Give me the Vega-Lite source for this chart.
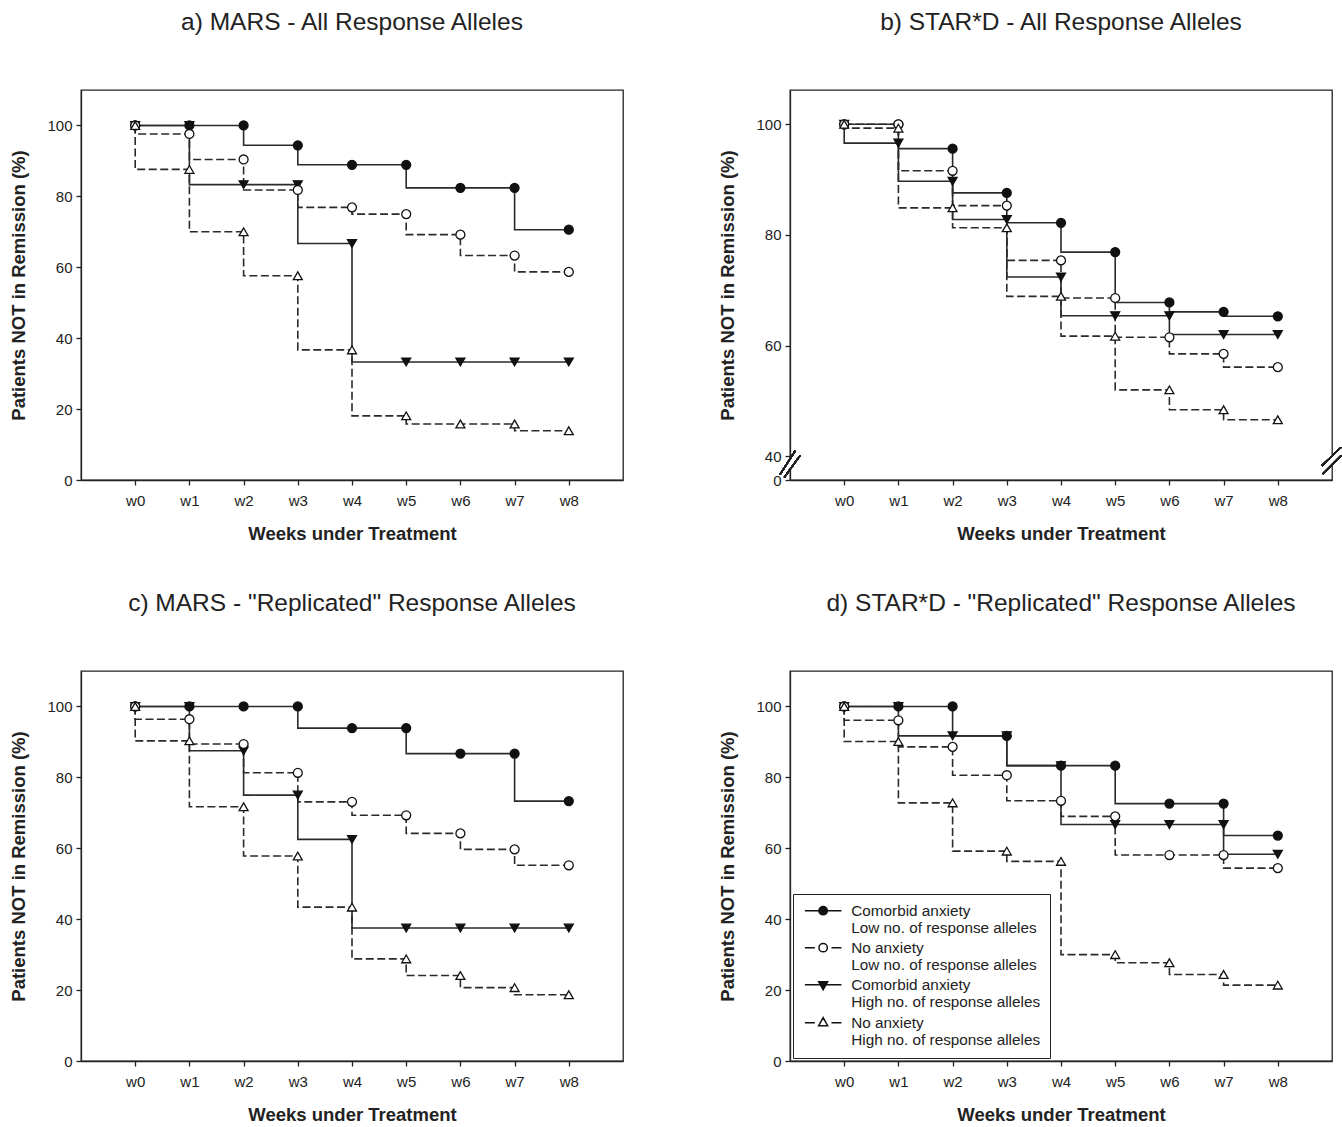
{
  "$schema": "https://vega.github.io/schema/vega-lite/v6.json",
  "autosize": {"type": "pad"},
  "padding": {"top": 8, "left": 9, "right": 0, "bottom": 0},
  "background": "white",
  "config": {
    "font": "Liberation Sans",
    "view": {"stroke": "#222", "strokeWidth": 1.3},
    "title": {"fontSize": 24.5, "fontWeight": "normal", "color": "#222", "offset": 55, "anchor": "middle", "font": "Liberation Sans"},
    "axis": {"grid": false, "labelFont": "Liberation Sans", "labelFontSize": 15, "labelColor": "#222", "titleFont": "Liberation Sans", "titleFontSize": 18.5, "titleFontWeight": "bold", "titleColor": "#222", "domainColor": "#222", "domainWidth": 1.3, "tickColor": "#222", "tickWidth": 1.3, "tickSize": 5},
    "axisX": {"labelPadding": 8, "titlePadding": 16},
    "axisY": {"labelPadding": 4, "titlePadding": 18},
    "legend": {"labelFont": "Liberation Sans"}
  },
  "datasets": {
    "km": [
      {"p":"a","s":"CH","w":0,"v":100},{"p":"a","s":"CH","w":1,"v":100},{"p":"a","s":"CH","w":2,"v":83.3},{"p":"a","s":"CH","w":3,"v":83.3},{"p":"a","s":"CH","w":4,"v":66.7},{"p":"a","s":"CH","w":5,"v":33.3},{"p":"a","s":"CH","w":6,"v":33.3},{"p":"a","s":"CH","w":7,"v":33.3},{"p":"a","s":"CH","w":8,"v":33.3},
      {"p":"a","s":"CL","w":0,"v":100},{"p":"a","s":"CL","w":1,"v":100},{"p":"a","s":"CL","w":2,"v":100},{"p":"a","s":"CL","w":3,"v":94.4},{"p":"a","s":"CL","w":4,"v":88.9},{"p":"a","s":"CL","w":5,"v":88.9},{"p":"a","s":"CL","w":6,"v":82.4},{"p":"a","s":"CL","w":7,"v":82.4},{"p":"a","s":"CL","w":8,"v":70.6},
      {"p":"a","s":"NL","w":0,"v":100},{"p":"a","s":"NL","w":1,"v":97.6},{"p":"a","s":"NL","w":2,"v":90.4},{"p":"a","s":"NL","w":3,"v":81.8},{"p":"a","s":"NL","w":4,"v":76.9},{"p":"a","s":"NL","w":5,"v":75.0},{"p":"a","s":"NL","w":6,"v":69.2},{"p":"a","s":"NL","w":7,"v":63.3},{"p":"a","s":"NL","w":8,"v":58.7},
      {"p":"a","s":"NH","w":0,"v":100},{"p":"a","s":"NH","w":1,"v":87.6},{"p":"a","s":"NH","w":2,"v":70.0},{"p":"a","s":"NH","w":3,"v":57.6},{"p":"a","s":"NH","w":4,"v":36.7},{"p":"a","s":"NH","w":5,"v":18.1},{"p":"a","s":"NH","w":6,"v":15.8},{"p":"a","s":"NH","w":7,"v":15.8},{"p":"a","s":"NH","w":8,"v":13.9},
      {"p":"b","s":"CH","w":0,"v":100},{"p":"b","s":"CH","w":1,"v":96.6},{"p":"b","s":"CH","w":2,"v":89.7},{"p":"b","s":"CH","w":3,"v":82.8},{"p":"b","s":"CH","w":4,"v":72.4},{"p":"b","s":"CH","w":5,"v":65.4},{"p":"b","s":"CH","w":6,"v":65.4},{"p":"b","s":"CH","w":7,"v":62.0},{"p":"b","s":"CH","w":8,"v":62.0},
      {"p":"b","s":"CL","w":0,"v":100},{"p":"b","s":"CL","w":1,"v":100},{"p":"b","s":"CL","w":2,"v":95.6},{"p":"b","s":"CL","w":3,"v":87.6},{"p":"b","s":"CL","w":4,"v":82.2},{"p":"b","s":"CL","w":5,"v":76.9},{"p":"b","s":"CL","w":6,"v":67.8},{"p":"b","s":"CL","w":7,"v":66.1},{"p":"b","s":"CL","w":8,"v":65.3},
      {"p":"b","s":"NL","w":0,"v":100},{"p":"b","s":"NL","w":1,"v":100},{"p":"b","s":"NL","w":2,"v":91.6},{"p":"b","s":"NL","w":3,"v":85.3},{"p":"b","s":"NL","w":4,"v":75.4},{"p":"b","s":"NL","w":5,"v":68.6},{"p":"b","s":"NL","w":6,"v":61.5},{"p":"b","s":"NL","w":7,"v":58.5},{"p":"b","s":"NL","w":8,"v":56.1},
      {"p":"b","s":"NH","w":0,"v":100},{"p":"b","s":"NH","w":1,"v":99.3},{"p":"b","s":"NH","w":2,"v":84.9},{"p":"b","s":"NH","w":3,"v":81.3},{"p":"b","s":"NH","w":4,"v":68.9},{"p":"b","s":"NH","w":5,"v":61.7},{"p":"b","s":"NH","w":6,"v":52.0},{"p":"b","s":"NH","w":7,"v":48.4},{"p":"b","s":"NH","w":8,"v":46.6},
      {"p":"c","s":"CH","w":0,"v":100},{"p":"c","s":"CH","w":1,"v":100},{"p":"c","s":"CH","w":2,"v":87.5},{"p":"c","s":"CH","w":3,"v":75.0},{"p":"c","s":"CH","w":4,"v":62.5},{"p":"c","s":"CH","w":5,"v":37.5},{"p":"c","s":"CH","w":6,"v":37.5},{"p":"c","s":"CH","w":7,"v":37.5},{"p":"c","s":"CH","w":8,"v":37.5},
      {"p":"c","s":"CL","w":0,"v":100},{"p":"c","s":"CL","w":1,"v":100},{"p":"c","s":"CL","w":2,"v":100},{"p":"c","s":"CL","w":3,"v":100},{"p":"c","s":"CL","w":4,"v":93.9},{"p":"c","s":"CL","w":5,"v":93.9},{"p":"c","s":"CL","w":6,"v":86.7},{"p":"c","s":"CL","w":7,"v":86.7},{"p":"c","s":"CL","w":8,"v":73.3},
      {"p":"c","s":"NL","w":0,"v":100},{"p":"c","s":"NL","w":1,"v":96.4},{"p":"c","s":"NL","w":2,"v":89.4},{"p":"c","s":"NL","w":3,"v":81.3},{"p":"c","s":"NL","w":4,"v":73.1},{"p":"c","s":"NL","w":5,"v":69.3},{"p":"c","s":"NL","w":6,"v":64.2},{"p":"c","s":"NL","w":7,"v":59.7},{"p":"c","s":"NL","w":8,"v":55.2},
      {"p":"c","s":"NH","w":0,"v":100},{"p":"c","s":"NH","w":1,"v":90.3},{"p":"c","s":"NH","w":2,"v":71.7},{"p":"c","s":"NH","w":3,"v":57.8},{"p":"c","s":"NH","w":4,"v":43.4},{"p":"c","s":"NH","w":5,"v":28.8},{"p":"c","s":"NH","w":6,"v":24.1},{"p":"c","s":"NH","w":7,"v":20.7},{"p":"c","s":"NH","w":8,"v":18.7},
      {"p":"d","s":"CH","w":0,"v":100},{"p":"d","s":"CH","w":1,"v":100},{"p":"d","s":"CH","w":2,"v":91.7},{"p":"d","s":"CH","w":3,"v":91.7},{"p":"d","s":"CH","w":4,"v":83.3},{"p":"d","s":"CH","w":5,"v":66.7},{"p":"d","s":"CH","w":6,"v":66.7},{"p":"d","s":"CH","w":7,"v":66.7},{"p":"d","s":"CH","w":8,"v":58.3},
      {"p":"d","s":"CL","w":0,"v":100},{"p":"d","s":"CL","w":1,"v":100},{"p":"d","s":"CL","w":2,"v":100},{"p":"d","s":"CL","w":3,"v":91.7},{"p":"d","s":"CL","w":4,"v":83.3},{"p":"d","s":"CL","w":5,"v":83.3},{"p":"d","s":"CL","w":6,"v":72.6},{"p":"d","s":"CL","w":7,"v":72.6},{"p":"d","s":"CL","w":8,"v":63.6},
      {"p":"d","s":"NL","w":0,"v":100},{"p":"d","s":"NL","w":1,"v":96.1},{"p":"d","s":"NL","w":2,"v":88.6},{"p":"d","s":"NL","w":3,"v":80.6},{"p":"d","s":"NL","w":4,"v":73.4},{"p":"d","s":"NL","w":5,"v":69.0},{"p":"d","s":"NL","w":6,"v":58.1},{"p":"d","s":"NL","w":7,"v":58.1},{"p":"d","s":"NL","w":8,"v":54.4},
      {"p":"d","s":"NH","w":0,"v":100},{"p":"d","s":"NH","w":1,"v":90.1},{"p":"d","s":"NH","w":2,"v":72.8},{"p":"d","s":"NH","w":3,"v":59.2},{"p":"d","s":"NH","w":4,"v":56.3},{"p":"d","s":"NH","w":5,"v":30.0},{"p":"d","s":"NH","w":6,"v":27.7},{"p":"d","s":"NH","w":7,"v":24.4},{"p":"d","s":"NH","w":8,"v":21.4}
    ]
  },
  "columns": 2,
  "bounds": "flush",
  "spacing": {"row": 191, "column": 167},
  "resolve": {"scale": {"x": "independent", "y": "independent", "shape": "independent", "fill": "independent"}, "legend": {"shape": "independent", "fill": "independent"}},
  "concat": [
    {
      "width": 542, "height": 390,
      "title": "a) MARS - All Response Alleles",
      "data": {"name": "km"},
      "transform": [{"filter": "datum.p == 'a'"}],
      "layer": [
        {"mark": {"type": "line", "interpolate": "step-before", "stroke": "#2a2a2a", "strokeWidth": 1.6},
         "encoding": {
           "x": {"field": "w", "type": "quantitative", "scale": {"domain": [-1, 9], "nice": false, "zero": false}, "axis": {"values": [0,1,2,3,4,5,6,7,8], "labelExpr": "'w' + datum.value", "title": "Weeks under Treatment"}},
           "y": {"field": "v", "type": "quantitative", "scale": {"domain": [0, 110], "nice": false}, "axis": {"values": [0,20,40,60,80,100], "title": "Patients NOT in Remission (%)"}},
           "detail": {"field": "s"},
           "strokeDash": {"condition": {"test": "datum.s == 'NL' || datum.s == 'NH'", "value": [8,3.5]}, "value": [1,0]}}},
        {"mark": {"type": "point", "filled": true, "stroke": "#111", "strokeWidth": 1.3, "size": 80, "opacity": 1},
         "encoding": {
           "x": {"field": "w", "type": "quantitative"},
           "y": {"field": "v", "type": "quantitative"},
           "shape": {"field": "s", "type": "nominal", "scale": {"domain": ["CL","NL","CH","NH"], "range": ["circle","circle","triangle-down","triangle-up"]}, "legend": null},
           "fill": {"condition": {"test": "datum.s == 'CL' || datum.s == 'CH'", "value": "#111"}, "value": "#fff"}}}
      ]
    },
    {
      "width": 542, "height": 390,
      "title": "b) STAR*D - All Response Alleles",
      "data": {"name": "km"},
      "transform": [{"filter": "datum.p == 'b'"}],
      "layer": [
        {"mark": {"type": "line", "interpolate": "step-before", "stroke": "#2a2a2a", "strokeWidth": 1.6},
         "encoding": {
           "x": {"field": "w", "type": "quantitative", "scale": {"domain": [-1, 9], "nice": false, "zero": false}, "axis": {"values": [0,1,2,3,4,5,6,7,8], "labelExpr": "'w' + datum.value", "title": "Weeks under Treatment"}},
           "y": {"field": "v", "type": "quantitative", "scale": {"domain": [35.7, 106.2], "nice": false, "zero": false}, "axis": {"values": [35.7,40,60,80,100], "labelExpr": "datum.value < 38 ? '0' : datum.label", "title": "Patients NOT in Remission (%)"}},
           "detail": {"field": "s"},
           "strokeDash": {"condition": {"test": "datum.s == 'NL' || datum.s == 'NH'", "value": [8,3.5]}, "value": [1,0]}}},
        {"mark": {"type": "point", "filled": true, "stroke": "#111", "strokeWidth": 1.3, "size": 80, "opacity": 1},
         "encoding": {
           "x": {"field": "w", "type": "quantitative"},
           "y": {"field": "v", "type": "quantitative"},
           "shape": {"field": "s", "type": "nominal", "scale": {"domain": ["CL","NL","CH","NH"], "range": ["circle","circle","triangle-down","triangle-up"]}, "legend": null},
           "fill": {"condition": {"test": "datum.s == 'CL' || datum.s == 'CH'", "value": "#111"}, "value": "#fff"}}},
        {"mark": {"type": "rule", "stroke": "white", "strokeWidth": 3},
         "encoding": {"x": {"datum": -1}, "y": {"datum": 37.7}, "y2": {"datum": 39.4}}},
        {"mark": {"type": "rule", "stroke": "white", "strokeWidth": 3},
         "encoding": {"x": {"datum": 9}, "y": {"datum": 38.6}, "y2": {"datum": 39.9}}},
        {"mark": {"type": "rule", "stroke": "#222", "strokeWidth": 1.3},
         "encoding": {"x": {"datum": -1.185}, "x2": {"datum": -0.902}, "y": {"datum": 36.66}, "y2": {"datum": 41.0}}},
        {"mark": {"type": "rule", "stroke": "#222", "strokeWidth": 1.3},
         "encoding": {"x": {"datum": -1.105}, "x2": {"datum": -0.815}, "y": {"datum": 36.17}, "y2": {"datum": 40.1}}},
        {"mark": {"type": "rule", "stroke": "#222", "strokeWidth": 1.3},
         "encoding": {"x": {"datum": 8.81}, "x2": {"datum": 9.166}, "y": {"datum": 38.29}, "y2": {"datum": 41.6}}},
        {"mark": {"type": "rule", "stroke": "#222", "strokeWidth": 1.3},
         "encoding": {"x": {"datum": 8.83}, "x2": {"datum": 9.166}, "y": {"datum": 36.79}, "y2": {"datum": 40.1}}}
      ]
    },
    {
      "width": 542, "height": 390,
      "title": "c) MARS - \"Replicated\" Response Alleles",
      "data": {"name": "km"},
      "transform": [{"filter": "datum.p == 'c'"}],
      "layer": [
        {"mark": {"type": "line", "interpolate": "step-before", "stroke": "#2a2a2a", "strokeWidth": 1.6},
         "encoding": {
           "x": {"field": "w", "type": "quantitative", "scale": {"domain": [-1, 9], "nice": false, "zero": false}, "axis": {"values": [0,1,2,3,4,5,6,7,8], "labelExpr": "'w' + datum.value", "title": "Weeks under Treatment"}},
           "y": {"field": "v", "type": "quantitative", "scale": {"domain": [0, 110], "nice": false}, "axis": {"values": [0,20,40,60,80,100], "title": "Patients NOT in Remission (%)"}},
           "detail": {"field": "s"},
           "strokeDash": {"condition": {"test": "datum.s == 'NL' || datum.s == 'NH'", "value": [8,3.5]}, "value": [1,0]}}},
        {"mark": {"type": "point", "filled": true, "stroke": "#111", "strokeWidth": 1.3, "size": 80, "opacity": 1},
         "encoding": {
           "x": {"field": "w", "type": "quantitative"},
           "y": {"field": "v", "type": "quantitative"},
           "shape": {"field": "s", "type": "nominal", "scale": {"domain": ["CL","NL","CH","NH"], "range": ["circle","circle","triangle-down","triangle-up"]}, "legend": null},
           "fill": {"condition": {"test": "datum.s == 'CL' || datum.s == 'CH'", "value": "#111"}, "value": "#fff"}}}
      ]
    },
    {
      "width": 542, "height": 390,
      "title": "d) STAR*D - \"Replicated\" Response Alleles",
      "data": {"name": "km"},
      "transform": [{"filter": "datum.p == 'd'"}],
      "resolve": {"scale": {"shape": "independent", "fill": "independent"}},
      "layer": [
        {"mark": {"type": "line", "interpolate": "step-before", "stroke": "#2a2a2a", "strokeWidth": 1.6},
         "encoding": {
           "x": {"field": "w", "type": "quantitative", "scale": {"domain": [-1, 9], "nice": false, "zero": false}, "axis": {"values": [0,1,2,3,4,5,6,7,8], "labelExpr": "'w' + datum.value", "title": "Weeks under Treatment"}},
           "y": {"field": "v", "type": "quantitative", "scale": {"domain": [0, 110], "nice": false}, "axis": {"values": [0,20,40,60,80,100], "title": "Patients NOT in Remission (%)"}},
           "detail": {"field": "s"},
           "strokeDash": {"condition": {"test": "datum.s == 'NL' || datum.s == 'NH'", "value": [8,3.5]}, "value": [1,0]}}},
        {"mark": {"type": "point", "filled": true, "stroke": "#111", "strokeWidth": 1.3, "size": 80, "opacity": 1},
         "encoding": {
           "x": {"field": "w", "type": "quantitative"},
           "y": {"field": "v", "type": "quantitative"},
           "shape": {"field": "s", "type": "nominal", "scale": {"domain": ["CL","NL","CH","NH"], "range": ["circle","circle","triangle-down","triangle-up"]}, "legend": null},
           "fill": {"condition": {"test": "datum.s == 'CL' || datum.s == 'CH'", "value": "#111"}, "value": "#fff"}}},
        {"transform": [{"filter": "false"}],
         "mark": {"type": "point", "filled": true, "stroke": "#111", "strokeWidth": 1.3, "opacity": 1},
         "encoding": {
           "shape": {"field": "s", "type": "nominal",
             "scale": {"domain": ["CL","NL","CH","NH"], "range": [
               "M-3.66,0H3.66M0.84,0C0.84,0.464 0.464,0.84 0,0.84C-0.464,0.84 -0.84,0.464 -0.84,0C-0.84,-0.464 -0.464,-0.84 0,-0.84C0.464,-0.84 0.84,-0.464 0.84,0Z",
               "M-3.66,0H-1.66M1.66,0H3.66M0.84,0C0.84,0.464 0.464,0.84 0,0.84C-0.464,0.84 -0.84,0.464 -0.84,0C-0.84,-0.464 -0.464,-0.84 0,-0.84C0.464,-0.84 0.84,-0.464 0.84,0Z",
               "M-3.66,0H3.66M-0.9,-0.6H0.9L0,1Z",
               "M-3.66,0H-1.66M1.66,0H3.66M0,-1L0.9,0.6H-0.9Z"]},
             "legend": {
               "title": null, "orient": "bottom-left", "offset": 3, "direction": "vertical",
               "strokeColor": "#222", "fillColor": "white", "padding": 9, "cornerRadius": 0,
               "symbolOffset": 13.5, "labelOffset": 20.5, "labelFontSize": 15.3, "labelColor": "#222", "labelLimit": 400, "rowPadding": 3,
               "labelExpr": "datum.value == 'CL' ? ['Comorbid anxiety', 'Low no. of response alleles'] : datum.value == 'NL' ? ['No anxiety', 'Low no. of response alleles'] : datum.value == 'CH' ? ['Comorbid anxiety', 'High no. of response alleles'] : ['No anxiety', 'High no. of response alleles']"
             }},
           "fill": {"field": "s", "type": "nominal",
             "scale": {"domain": ["CL","NL","CH","NH"], "range": ["#111","#fff","#111","#fff"]},
             "legend": {
               "title": null, "orient": "bottom-left", "offset": 3, "direction": "vertical",
               "strokeColor": "#222", "fillColor": "white", "padding": 9, "cornerRadius": 0,
               "symbolOffset": 13.5, "labelOffset": 20.5, "labelFontSize": 15.3, "labelColor": "#222", "labelLimit": 400, "rowPadding": 3,
               "labelExpr": "datum.value == 'CL' ? ['Comorbid anxiety', 'Low no. of response alleles'] : datum.value == 'NL' ? ['No anxiety', 'Low no. of response alleles'] : datum.value == 'CH' ? ['Comorbid anxiety', 'High no. of response alleles'] : ['No anxiety', 'High no. of response alleles']"
             }}}}
      ]
    }
  ]
}
